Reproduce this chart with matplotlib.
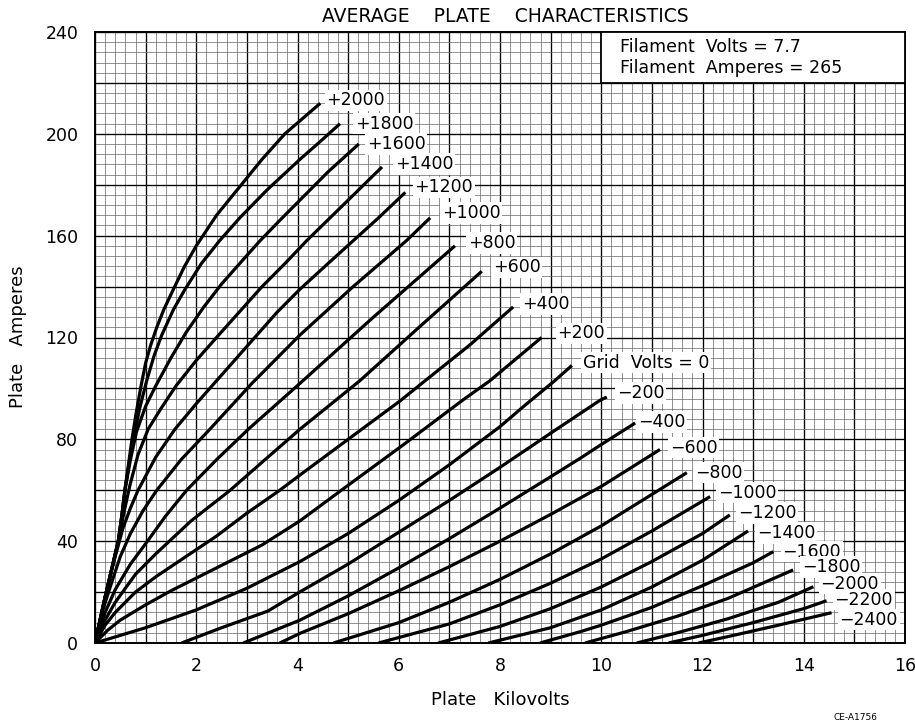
import matplotlib.pyplot as plt
from matplotlib.patches import Rectangle
from matplotlib.ticker import MultipleLocator, FuncFormatter

plt.rcParams['font.family'] = ['DejaVu Sans']

# grid volts of each curve, top curve first
grid_volts = [2000, 1800, 1600, 1400, 1200, 1000, 800, 600, 400, 200, 0,
              -200, -400, -600, -800, -1000, -1200, -1400, -1600, -1800,
              -2000, -2200, -2400]

# (plate kilovolts, plate amperes)
g_p2000 = [(0, 0), (0.1, 9), (0.2, 18), (0.33, 29), (0.46, 40), (0.53, 50), (0.59, 60),
           (0.66, 70), (0.73, 80), (0.81, 90), (0.9, 100), (1.0, 110), (1.1, 117), (1.22, 124),
           (1.36, 131), (1.55, 139), (1.77, 148), (2.0, 156), (2.4, 168), (2.85, 179),
           (3.3, 190), (3.75, 200), (4.1, 206), (4.45, 212)]
g_p1800 = [(0, 0), (0.1, 9), (0.2, 18), (0.33, 29), (0.46, 40), (0.53, 50), (0.59, 60),
           (0.67, 70), (0.76, 80), (0.88, 92), (1.02, 103), (1.17, 113), (1.32, 121),
           (1.55, 131), (1.78, 139), (2.1, 149), (2.46, 158), (2.86, 167), (3.4, 178),
           (4.05, 190), (4.45, 197), (4.84, 204)]
g_p1600 = [(0, 0), (0.1, 9), (0.2, 18), (0.33, 29), (0.46, 40), (0.53, 50), (0.6, 61),
           (0.7, 72), (0.82, 83), (1.0, 93), (1.2, 101), (1.5, 112), (1.8, 122), (2.15, 132),
           (2.5, 141), (2.9, 150), (3.26, 158), (3.65, 166), (4.05, 174), (4.6, 185),
           (5.21, 196)]
g_p1400 = [(0, 0), (0.1, 9), (0.2, 18), (0.33, 29), (0.46, 40), (0.58, 52), (0.69, 62),
           (0.85, 74), (1.05, 84), (1.3, 92), (1.6, 101), (2.0, 111), (2.4, 120), (2.85, 130),
           (3.3, 140), (3.75, 149), (4.18, 158), (4.9, 172), (5.67, 187)]
g_p1200 = [(0, 0), (0.1, 9), (0.2, 18), (0.36, 31), (0.55, 45), (0.7, 53), (0.85, 60),
           (1.2, 73), (1.58, 84), (2.0, 94), (2.4, 103), (2.8, 112), (3.2, 121), (3.6, 130),
           (4.05, 139), (4.6, 149), (5.1, 158), (5.6, 167), (6.13, 177)]
g_p1000 = [(0, 0), (0.17, 14), (0.35, 25), (0.5, 34), (0.7, 43), (0.95, 52), (1.22, 60),
           (1.7, 72), (2.27, 84), (3.1, 102), (4.05, 121), (5.1, 140), (6.15, 158), (6.62, 167)]
g_p800 = [(0, 0), (0.2, 12), (0.4, 21), (0.7, 31), (1.0, 39), (1.4, 50), (1.81, 60),
          (2.4, 72), (3.03, 84), (4.05, 102), (5.5, 128), (7.11, 156)]
g_p600 = [(0, 0), (0.2, 9), (0.4, 16), (0.8, 27), (1.2, 35), (1.9, 48), (2.67, 60),
          (3.3, 71), (4.05, 84), (5.23, 103), (6.4, 124), (7.64, 146)]
g_p400 = [(0, 0), (0.2, 7), (0.4, 12), (0.8, 20), (1.2, 26), (1.8, 34), (2.4, 42), (3.0, 51),
          (3.65, 60), (4.05, 66), (5.0, 80), (6.02, 95), (6.52, 103), (7.4, 117), (8.26, 132)]
g_p200 = [(0, 0), (0.25, 5), (0.5, 9), (1.0, 15), (1.5, 20.5), (2.5, 30.5), (3.3, 38.5),
          (4.05, 48), (4.9, 60.5), (6.1, 78), (7.27, 95.5), (7.8, 103), (8.82, 120)]
g_0 = [(0, 0), (1, 6), (2, 13), (3, 21.5), (4.05, 32), (5, 43), (6, 56), (7, 70), (8, 85),
       (8.5, 93.5), (9.05, 102.5), (9.42, 109)]
g_m200 = [(1.71, 0), (2.5, 6), (3.41, 12.5), (4.05, 20.1), (5, 31), (6, 43.5), (7, 56),
          (8, 69), (9, 82.4), (9.98, 95.4), (10.11, 96.6)]
g_m400 = [(2.93, 0), (4.05, 9), (5, 18.5), (6, 29.5), (7, 41), (8, 53), (9, 65.3),
          (9.58, 72.5), (9.98, 77.7), (10.67, 86.4)]
g_m600 = [(3.65, 0), (4.05, 3.8), (5, 11.5), (6, 20.5), (7, 30), (8, 40), (9, 50.5),
          (10, 61.5), (11.16, 76)]
g_m800 = [(4.71, 0), (6, 8), (7, 16), (8, 25), (9, 35), (10, 46), (11.69, 66.9)]
g_m1000 = [(5.6, 0), (7, 7.5), (8, 15), (9, 23.5), (10, 33), (11, 44), (12.15, 57.5)]
g_m1200 = [(6.78, 0), (8, 6.5), (9, 13.5), (10, 22), (11, 32), (12, 43), (12.54, 50.3)]
g_m1400 = [(7.77, 0), (9, 6), (10, 13), (11, 22), (12, 32.5), (12.9, 44)]
g_m1600 = [(8.79, 0), (9.58, 4.4), (10, 7), (11, 14), (12, 22.5), (13, 31.5), (13.4, 35.9)]
g_m1800 = [(9.68, 0), (10.5, 4.5), (11.5, 10.5), (12.5, 17.5), (13.79, 28.7)]
g_m2000 = [(10.7, 0), (11.5, 4), (12.5, 9.5), (13.5, 16), (14.19, 22.1)]
g_m2200 = [(11.33, 0), (12, 3), (13, 8), (14, 13.5), (14.45, 16.6)]
g_m2400 = [(11.92, 0), (12.5, 2.5), (13.5, 7), (14.55, 11.9)]

curves = [g_p2000, g_p1800, g_p1600, g_p1400, g_p1200, g_p1000, g_p800, g_p600,
          g_p400, g_p200, g_0, g_m200, g_m400, g_m600, g_m800, g_m1000, g_m1200,
          g_m1400, g_m1600, g_m1800, g_m2000, g_m2200, g_m2400]

# label offset from curve end, pixels
label_off = [(6, 3), (15, 0), (8, 0), (13, 3), (9, 5), (12, 5), (13, 3), (11, 4), (9, 3),
             (16, 4), (11, 3), (10, 4), (3, 1), (10, 2), (8, 0), (8, 4), (8, 2), (9, -2),
             (9, 0), (9, 3), (7, 3), (8, 1), (8, -7)]

fig = plt.figure(figsize=(9.15, 7.25), dpi=100)
ax = fig.add_axes([95 / 915, 82 / 725, 810 / 915, 611 / 725])

ax.set_xlim(0, 16)
ax.set_ylim(0, 240)
ax.xaxis.set_major_locator(MultipleLocator(1))
ax.xaxis.set_minor_locator(MultipleLocator(0.2))
ax.yaxis.set_major_locator(MultipleLocator(20))
ax.yaxis.set_minor_locator(MultipleLocator(4))
ax.xaxis.set_major_formatter(FuncFormatter(lambda v, p: f'{v:.0f}' if round(v) % 2 == 0 else ''))
ax.yaxis.set_major_formatter(FuncFormatter(lambda v, p: f'{v:.0f}' if round(v) % 40 == 0 else ''))
ax.tick_params(which='both', length=0, labelsize=12.5)
ax.tick_params(axis='x', pad=10)
ax.tick_params(axis='y', pad=12)
ax.grid(which='major', color='black', lw=0.95)
ax.grid(which='minor', color='#666666', lw=0.5)
ax.set_axisbelow(True)
for s in ax.spines.values():
    s.set_linewidth(1.4)

for gv, pts, off in zip(grid_volts, curves, label_off):
    xs = [p[0] for p in pts]
    ys = [p[1] for p in pts]
    ax.plot(xs, ys, color='black', lw=2.3, solid_capstyle='butt',
            solid_joinstyle='round', zorder=4)
    if gv == 0:
        txt = 'Grid  Volts = 0'
    elif gv > 0:
        txt = f'+{gv}'
    else:
        txt = f'\u2212{-gv}'
    ax.annotate(txt, (xs[-1], ys[-1]), xytext=(off[0], off[1]), textcoords='offset pixels',
                ha='left', va='center', fontsize=12.5, zorder=5,
                bbox=dict(fc='white', ec='none', pad=1.2))

ax.add_patch(Rectangle((10, 220), 6, 20, fc='white', ec='black', lw=1.3, zorder=3))
ax.text(10.37, 234, 'Filament  Volts = 7.7', fontsize=12.5, va='center', zorder=5)
ax.text(10.37, 225.8, 'Filament  Amperes = 265', fontsize=12.5, va='center', zorder=5)

fig.text(505 / 915, 1 - 16 / 725, 'AVERAGE    PLATE    CHARACTERISTICS', ha='center',
         va='center', fontsize=13.5)
fig.text(18 / 915, 1 - 337 / 725, 'Plate   Amperes', rotation=90, ha='center',
         va='center', fontsize=13)
fig.text(500 / 915, 1 - 700 / 725, 'Plate   Kilovolts', ha='center', va='center',
         fontsize=13)
fig.text(855 / 915, 1 - 717 / 725, 'CE-A1756', ha='center', va='center', fontsize=6.5)

fig.savefig('out.png', dpi=100)
